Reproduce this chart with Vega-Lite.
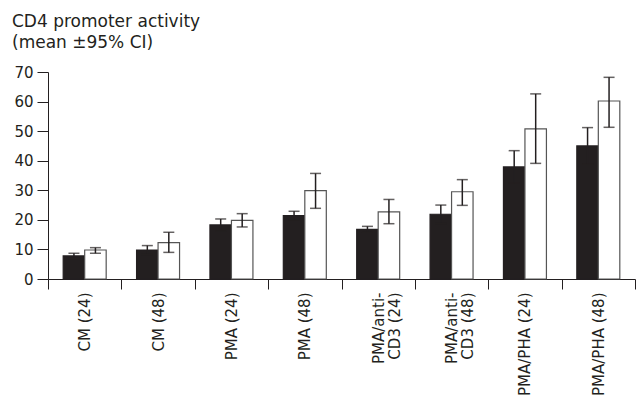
{
  "$schema": "https://vega.github.io/schema/vega-lite/v6.json",
  "autosize": {"type": "none"},
  "padding": {"left": 48, "top": 72, "right": 3, "bottom": 131},
  "width": 587,
  "height": 207,
  "background": "white",
  "config": {
    "view": {"stroke": null},
    "font": "DejaVu Sans",
    "axisY": {
      "title": null,
      "grid": false,
      "tickSize": 11,
      "tickColor": "#231f20",
      "domainColor": "#231f20",
      "labelPadding": 4,
      "labelFontSize": 15,
      "labelFont": "DejaVu Sans",
      "labelColor": "#231f20",
      "labelOverlap": false,
      "labelFlush": false
    }
  },
  "title": {
    "text": ["CD4 promoter activity", "(mean ±95% CI)"],
    "anchor": "start",
    "frame": "group",
    "dx": -36,
    "offset": 13,
    "fontSize": 17,
    "fontWeight": "normal",
    "lineHeight": 21,
    "color": "#231f20",
    "font": "DejaVu Sans"
  },
  "data": {
    "values": [
      {"cond": "CM (24)", "series": "a", "value": 7.8, "lo": 6.9, "hi": 8.7},
      {"cond": "CM (24)", "series": "b", "value": 9.8, "lo": 8.7, "hi": 10.6},
      {"cond": "CM (48)", "series": "a", "value": 9.8, "lo": 8.3, "hi": 11.3},
      {"cond": "CM (48)", "series": "b", "value": 12.3, "lo": 9.0, "hi": 15.8},
      {"cond": "PMA (24)", "series": "a", "value": 18.3, "lo": 16.3, "hi": 20.3},
      {"cond": "PMA (24)", "series": "b", "value": 19.8, "lo": 17.6, "hi": 22.1},
      {"cond": "PMA (48)", "series": "a", "value": 21.4, "lo": 19.9, "hi": 22.9},
      {"cond": "PMA (48)", "series": "b", "value": 29.9, "lo": 23.9, "hi": 35.7},
      {"cond": "PMA/anti-|CD3 (24)", "series": "a", "value": 16.8, "lo": 15.8, "hi": 17.8},
      {"cond": "PMA/anti-|CD3 (24)", "series": "b", "value": 22.7, "lo": 18.7, "hi": 26.9},
      {"cond": "PMA/anti-|CD3 (48)", "series": "a", "value": 21.9, "lo": 18.8, "hi": 25.0},
      {"cond": "PMA/anti-|CD3 (48)", "series": "b", "value": 29.5, "lo": 24.9, "hi": 33.6},
      {"cond": "PMA/PHA (24)", "series": "a", "value": 37.9, "lo": 32.4, "hi": 43.4},
      {"cond": "PMA/PHA (24)", "series": "b", "value": 50.8, "lo": 39.1, "hi": 62.6},
      {"cond": "PMA/PHA (48)", "series": "a", "value": 45.0, "lo": 38.8, "hi": 51.2},
      {"cond": "PMA/PHA (48)", "series": "b", "value": 60.2, "lo": 51.3, "hi": 68.2}
    ]
  },
  "encoding": {
    "x": {
      "field": "cond",
      "type": "nominal",
      "sort": null,
      "scale": {"paddingInner": 0, "paddingOuter": 0},
      "axis": {
        "title": null,
        "tickBand": "extent",
        "tickSize": 10,
        "tickColor": "#231f20",
        "domainColor": "#231f20",
        "labelAngle": -90,
        "labelAlign": "right",
        "labelBaseline": "middle",
        "labelPadding": 3,
        "labelFontSize": 15,
        "labelFont": "DejaVu Sans",
        "labelColor": "#231f20",
        "labelLineHeight": 16,
        "labelExpr": "split(datum.label, '|')",
        "labelOverlap": false,
        "labelLimit": 0
      }
    },
    "xOffset": {
      "field": "series",
      "type": "nominal",
      "scale": {"paddingInner": 0, "paddingOuter": 0.707}
    }
  },
  "layer": [
    {
      "mark": {"type": "bar", "strokeWidth": 1.2},
      "encoding": {
        "y": {
          "field": "value",
          "type": "quantitative",
          "scale": {"domain": [0, 70], "nice": false},
          "axis": {"values": [0, 10, 20, 30, 40, 50, 60, 70]}
        },
        "fill": {
          "field": "series",
          "type": "nominal",
          "scale": {"domain": ["a", "b"], "range": ["#231f20", "#ffffff"]},
          "legend": null
        },
        "stroke": {
          "field": "series",
          "type": "nominal",
          "scale": {"domain": ["a", "b"], "range": ["#231f20", "#555555"]},
          "legend": null
        }
      }
    },
    {
      "mark": {"type": "rule", "color": "#231f20", "strokeWidth": 1.5},
      "encoding": {
        "y": {"field": "lo", "type": "quantitative", "axis": {"values": [0, 10, 20, 30, 40, 50, 60, 70]}},
        "y2": {"field": "hi"}
      }
    },
    {
      "mark": {"type": "tick", "color": "#231f20", "size": 11, "thickness": 1.5},
      "encoding": {
        "y": {"field": "lo", "type": "quantitative", "axis": {"values": [0, 10, 20, 30, 40, 50, 60, 70]}}
      }
    },
    {
      "mark": {"type": "tick", "color": "#231f20", "size": 11, "thickness": 1.5},
      "encoding": {
        "y": {"field": "hi", "type": "quantitative", "axis": {"values": [0, 10, 20, 30, 40, 50, 60, 70]}}
      }
    }
  ]
}
